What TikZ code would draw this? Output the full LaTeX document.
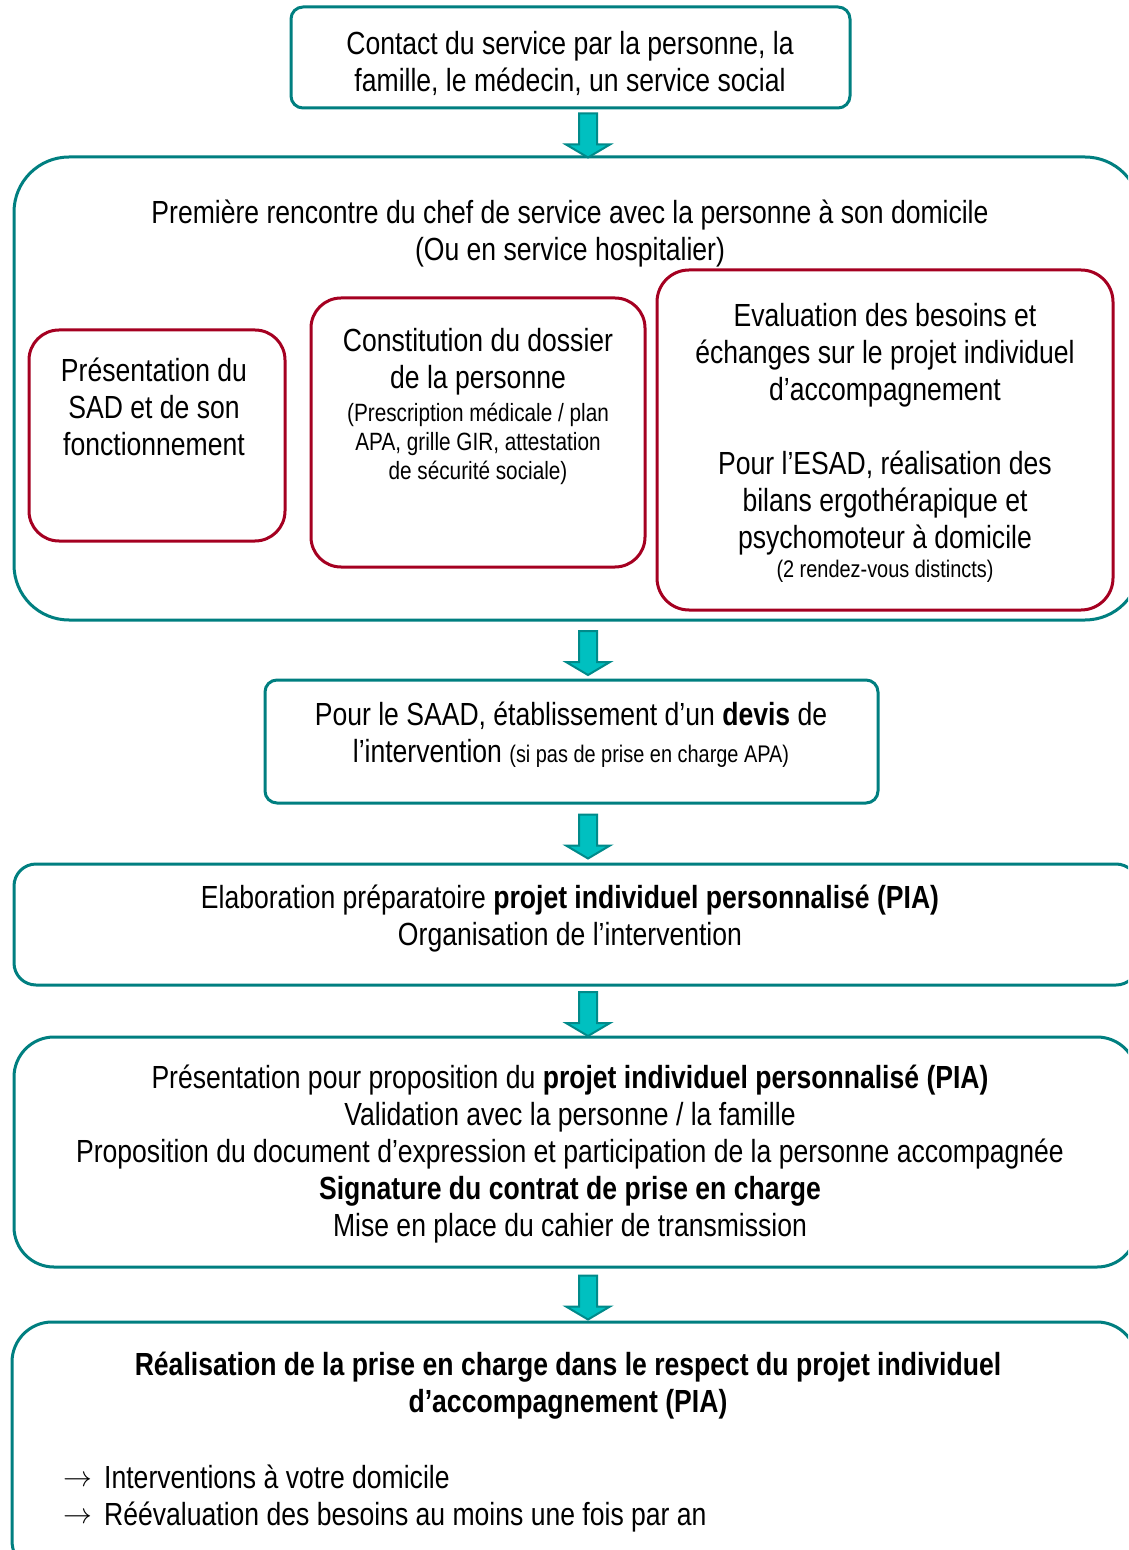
\documentclass[tikz,border=0pt]{standalone}
\usepackage{fontspec}
\setmainfont{Liberation Sans}[FakeStretch=0.83]
\usetikzlibrary{calc}
\definecolor{tealb}{HTML}{007F80}
\definecolor{redb}{HTML}{A50021}
\definecolor{arrfill}{HTML}{00C0C0}
\definecolor{arrline}{HTML}{008A8A}
\tikzset{
 boxbase/.style={draw, line width=1.5pt, inner sep=0pt, outer sep=0pt, fill=white},
 tealbox/.style={boxbase, draw=tealb},
 redbox/.style={boxbase, draw=redb},
 txt/.style={align=center, font=\fontsize{16}{18.5}\selectfont, inner sep=0pt},
 blockarrow/.style={fill=arrfill, draw=arrline, line width=1pt, line join=miter},
}
\newcommand\pbox[7]{%
 \node[#1, rounded corners={#7*0.5pt}, minimum width={(#5-#3)*0.5pt}, minimum height={(#6-#4)*0.5pt}] (#2) at ({(#3+#5)/2},{(#4+#6)/2}) {};}
\newcommand\barrow[3]{%
 \coordinate (#1m) at ($(#2.south)!0.5!(#3.north)$);
 \coordinate (#1) at ($(#1m -| ax)+(0,3)$);
 \draw[blockarrow] ($(#1)+(-9,-22)$) -- ($(#1)+(9,-22)$) -- ($(#1)+(9,9)$) -- ($(#1)+(22,9)$) -- ($(#1)+(0,22)$) -- ($(#1)+(-22,9)$) -- ($(#1)+(-9,9)$) -- cycle;}
\newcommand\rarr{\raisebox{1pt}{\fontsize{15}{18.5}\selectfont$\rightarrow$}\hspace{6pt}}
\begin{document}
\begin{tikzpicture}[x=0.5pt,y=-0.5pt]
\useasboundingbox (0,0) rectangle (1128,1550);
\fill[white] (0,0) rectangle (1128,1550);
\clip (0,0) rectangle (1128,1550);
\coordinate (ax) at (588,0);
% boxes
\pbox{tealbox}{b1}{291}{7}{850}{108}{12}
\pbox{tealbox}{b2}{14}{157}{1140}{620}{55}
\pbox{redbox}{bA}{29}{330}{285}{541}{30}
\pbox{redbox}{bB}{311}{298}{645}{567}{30}
\pbox{redbox}{bC}{657}{270}{1113}{610}{32}
\pbox{tealbox}{b3}{265}{680}{878}{803}{12}
\pbox{tealbox}{b4}{14}{864}{1138}{985}{22}
\pbox{tealbox}{b5}{14}{1037}{1137}{1267}{40}
\pbox{tealbox}{b6}{12}{1322}{1137}{1580}{40}
% arrows
\barrow{a1}{b1}{b2}
\barrow{a2}{b2}{b3}
\barrow{a3}{b3}{b4}
\barrow{a4}{b4}{b5}
\barrow{a5}{b5}{b6}
% texts
\node[txt] (t1) at (570,63) {Contact du service par la personne, la\\famille, le médecin, un service social};
\node[txt] (t2) at (570,234) {Première rencontre du chef de service avec la personne à son domicile\\(Ou en service hospitalier)};
\node[txt] (tA) at (154,407) {Présentation du\\SAD et de son\\fonctionnement};
\node[txt] (tB) at (478,406) {Constitution du dossier\\de la personne\\[-2pt]{\fontsize{12.5}{14}\selectfont (Prescription médicale / plan}\\[-4pt]{\fontsize{12.5}{14}\selectfont APA, grille GIR, attestation}\\[-4pt]{\fontsize{12.5}{14}\selectfont de sécurité sociale)}};
\node[txt] (tC) at (885,443) {Evaluation des besoins et\\échanges sur le projet individuel\\d'accompagnement\\[18.5pt]Pour l'ESAD, réalisation des\\bilans ergothérapique et\\psychomoteur à domicile\\[-4pt]{\fontsize{12}{14}\selectfont (2 rendez-vous distincts)}};
\node[txt] (t3) at (571,735) {Pour le SAAD, établissement d'un \textbf{devis} de\\l'intervention {\fontsize{12}{14}\selectfont (si pas de prise en charge APA)}};
\node[txt] (t4) at (570,919) {Elaboration préparatoire \textbf{projet individuel personnalisé (PIA)}\\Organisation de l'intervention};
\node[txt] (t5) at (570,1154) {Présentation pour proposition du \textbf{projet individuel personnalisé (PIA)}\\Validation avec la personne / la famille\\Proposition du document d'expression et participation de la personne accompagnée\\\textbf{Signature du contrat de prise en charge}\\Mise en place du cahier de transmission};
\node[txt, font=\fontsize{16}{18.5}\selectfont\bfseries] (t6) at (568,1386) {Réalisation de la prise en charge dans le respect du projet individuel\\d'accompagnement (PIA)};
\node[txt, align=left, anchor=west] (t7) at (63,1499) {\rarr Interventions à votre domicile\\\rarr Réévaluation des besoins au moins une fois par an};
\end{tikzpicture}
\end{document}
